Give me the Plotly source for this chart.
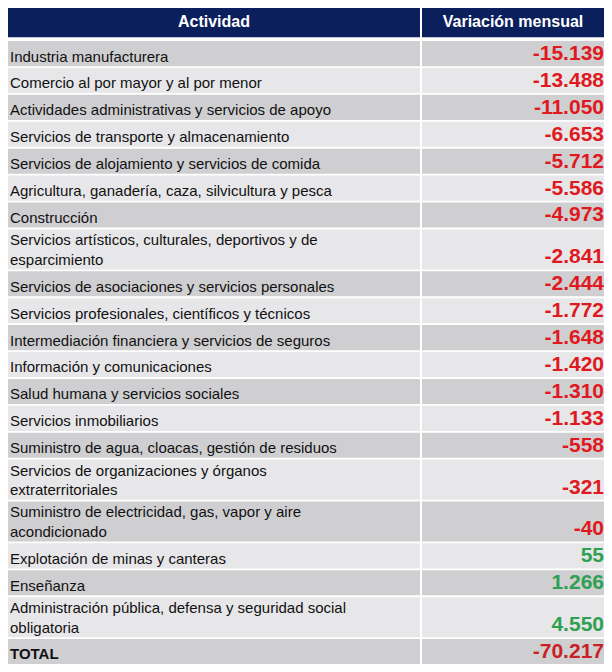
import plotly.graph_objects as go

actividades = [
    "Industria manufacturera",
    "Comercio al por mayor y al por menor",
    "Actividades administrativas y servicios de apoyo",
    "Servicios de transporte y almacenamiento",
    "Servicios de alojamiento y servicios de comida",
    "Agricultura, ganadería, caza, silvicultura y pesca",
    "Construcción",
    "Servicios artísticos, culturales, deportivos y de<br>esparcimiento",
    "Servicios de asociaciones y servicios personales",
    "Servicios profesionales, científicos y técnicos",
    "Intermediación financiera y servicios de seguros",
    "Información y comunicaciones",
    "Salud humana y servicios sociales",
    "Servicios inmobiliarios",
    "Suministro de agua, cloacas, gestión de residuos",
    "Servicios de organizaciones y órganos<br>extraterritoriales",
    "Suministro de electricidad, gas, vapor y aire<br>acondicionado",
    "Explotación de minas y canteras",
    "Enseñanza",
    "Administración pública, defensa y seguridad social<br>obligatoria",
]
variacion = [-15139, -13488, -11050, -6653, -5712, -5586, -4973, -2841, -2444,
             -1772, -1648, -1420, -1310, -1133, -558, -321, -40, 55, 1266, 4550]
total = -70217
encabezados = ["Actividad", "Variación mensual"]

ROJO = "#e0191f"
ROJO_TOTAL = "#c91f27"
VERDE = "#2ea052"
OSCURO = "#cfcfd1"
CLARO = "#e7e7e9"
NAVY = "#0c1f5d"
FUENTE = "Liberation Sans, Arial, sans-serif"

# anchos de columna (px) y alturas de fila (en unidades de línea)
W1, W2, GAP = 412, 182, 2
ALTO_ENC, SEP, LINEA_SEP = 1.95, 0.2, 0.12


def fmt(v):
    # miles con punto, estilo es-AR
    return f"{v:,}".replace(",", ".")


filas = actividades + ["<b>TOTAL</b>"]
valores = ["<b>" + fmt(v) + "</b>" for v in variacion + [total]]
colores = [ROJO if v < 0 else VERDE for v in variacion] + [ROJO_TOTAL]
fondos = [OSCURO if i % 2 == 0 else CLARO for i in range(len(filas))]

alturas = [0.8 + f.count("<br>") + 1 for f in filas]
centros, bases = [], []
y = ALTO_ENC + SEP
for h in alturas:
    centros.append(y + h / 2)
    bases.append(y + h - LINEA_SEP)
    y += h
total_alto = y
anchos = [h - LINEA_SEP for h in alturas]

fig = go.Figure()

# encabezado
fig.add_trace(go.Bar(
    orientation="h", y=[ALTO_ENC / 2] * 2, x=[W1, W2], base=[0, W1 + GAP],
    width=[ALTO_ENC] * 2, marker=dict(color=NAVY, line_width=0),
    hoverinfo="skip",
))
fig.add_trace(go.Scatter(
    x=[W1 / 2, W1 + GAP + W2 / 2], y=[ALTO_ENC / 2] * 2, mode="text",
    text=["<b>" + t + "</b>" for t in encabezados], textposition="middle center",
    textfont=dict(family=FUENTE, size=16, color="white"), hoverinfo="skip",
))

# celdas
fig.add_trace(go.Bar(
    orientation="h", y=centros, x=[W1] * len(filas), base=0, width=anchos,
    marker=dict(color=fondos, line_width=0), hoverinfo="skip",
))
fig.add_trace(go.Bar(
    orientation="h", y=centros, x=[W2] * len(filas), base=W1 + GAP, width=anchos,
    marker=dict(color=fondos, line_width=0), hoverinfo="skip",
))
fig.add_trace(go.Scatter(
    x=[2] * len(filas), y=bases, mode="text", text=filas,
    textposition="top right", hoverinfo="skip", cliponaxis=False,
    textfont=dict(family=FUENTE, size=15, color="#111111"),
))
fig.add_trace(go.Scatter(
    x=[W1 + GAP + W2] * len(filas), y=bases, mode="text", text=valores,
    textposition="top left", hoverinfo="skip", cliponaxis=False,
    textfont=dict(family=FUENTE, size=21, color=colores),
))

# la página añade 8 px de margen al cuerpo
fig.update_layout(
    width=W1 + GAP + W2, height=657,
    margin=dict(l=0, r=0, t=0, b=0),
    paper_bgcolor="white", plot_bgcolor="white",
    showlegend=False, barmode="overlay",
    xaxis=dict(visible=False, range=[0, W1 + GAP + W2], fixedrange=True),
    yaxis=dict(visible=False, range=[total_alto, 0], fixedrange=True),
)

fig.write_html("out.html")
